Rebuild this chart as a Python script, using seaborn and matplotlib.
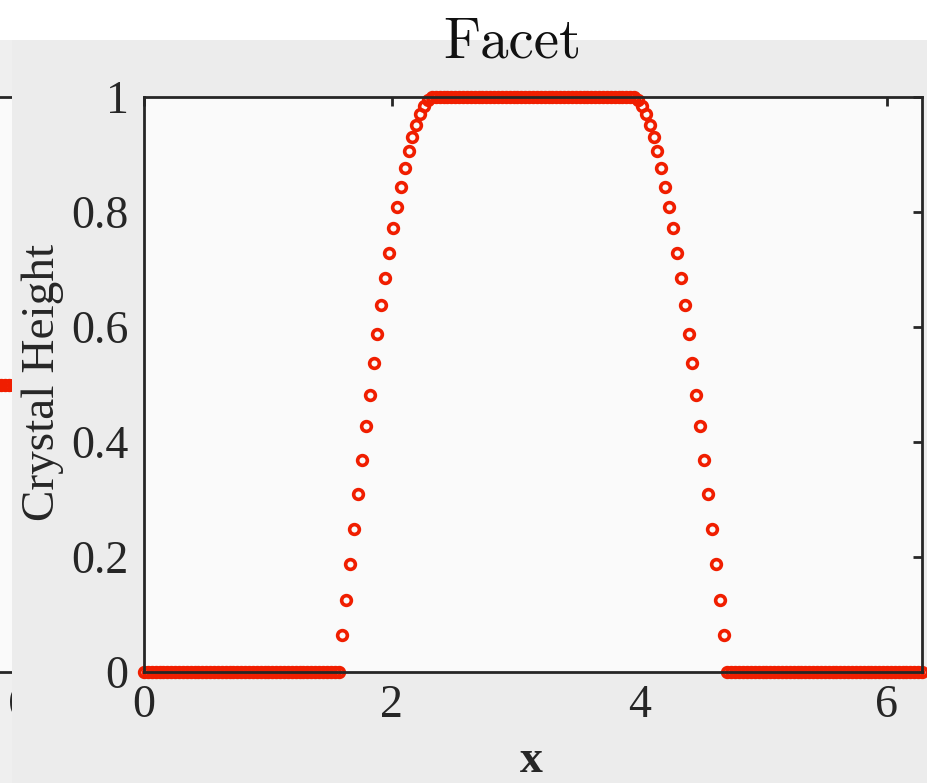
import numpy as np
import pandas as pd
import matplotlib
matplotlib.use("Agg")
import matplotlib.pyplot as plt
from matplotlib.patches import Rectangle
import seaborn as sns

# ---- data -------------------------------------------------------------
n_points = 201
x_grid = np.linspace(0, 2 * np.pi, n_points)

flat_left = [0.0] * 51
rise = [0.064, 0.125, 0.187, 0.248, 0.310, 0.368, 0.427, 0.482, 0.537,
        0.588, 0.638, 0.686, 0.729, 0.773, 0.809, 0.844, 0.877, 0.906,
        0.930, 0.952, 0.970, 0.984, 0.995]
plateau = [1.0] * 53
fall = [0.995, 0.984, 0.970, 0.952, 0.930, 0.906, 0.877, 0.844, 0.809,
        0.773, 0.729, 0.686, 0.638, 0.588, 0.537, 0.482, 0.427, 0.368,
        0.310, 0.248, 0.187, 0.125, 0.064]
flat_right = [0.0] * 51
height = flat_left + rise + plateau + fall + flat_right

# neighbouring panel: points near its right edge sit at half height
side_x = [5.70, 5.73, 5.76, 5.79, 5.82, 5.85, 5.88, 5.91, 5.94, 5.97,
          6.00, 6.03, 6.06, 6.09, 6.12, 6.15, 6.18, 6.21, 6.24, 6.27]
side_y = [0.5] * len(side_x)

x_ticks = [0, 2, 4, 6]
y_ticks = [0, 0.2, 0.4, 0.6, 0.8, 1]
y_ticklabels = ["0", "0.2", "0.4", "0.6", "0.8", "1"]
title_text = "Facet"
x_label = "x"
y_label = "Crystal Height"

df = pd.DataFrame({"x": x_grid, "h": height})
side_df = pd.DataFrame({"x": side_x, "h": side_y})

# ---- style ------------------------------------------------------------
sns.set_theme(style="white")
plt.rcParams["font.family"] = ["Liberation Serif", "DejaVu Serif"]

W, H = 927, 783
fig = plt.figure(figsize=(W / 100, H / 100), dpi=100, facecolor="white")

RED = "#f01e00"
SPINE = "#262626"
FIG_GRAY = "#ececec"
AX_BG = "#fafafa"
MARKER = dict(linestyle="none", marker="o", markersize=7,
              markerfacecolor="none", markeredgecolor=RED,
              markeredgewidth=2.6, color=RED, clip_on=False)


def px_rect(left, top, right, bottom):
    return [left / W, 1 - bottom / H, (right - left) / W, (bottom - top) / H]


def style_axes(ax, labelsize=33):
    ax.set_facecolor(AX_BG)
    for s in ax.spines.values():
        s.set_visible(True)
        s.set_color(SPINE)
        s.set_linewidth(2.0)
    ax.tick_params(axis="both", direction="in", length=6.5, width=2.0,
                   color=SPINE, top=True, right=True, labelsize=labelsize,
                   labelcolor="#262626")
    ax.tick_params(axis="x", pad=9)
    ax.tick_params(axis="y", pad=11)


# strip of the neighbouring window on the far left
fig.patches.append(Rectangle((0, 0), 12 / W, 1 - 40 / H,
                             transform=fig.transFigure, facecolor="#efefef",
                             edgecolor="none", zorder=-2))

ax_side = fig.add_axes(px_rect(-723, 97, 55, 672), zorder=0)
style_axes(ax_side)
sns.lineplot(data=side_df, x="x", y="h", ax=ax_side, estimator=None, **MARKER)
ax_side.set_xlim(0, 2 * np.pi)
ax_side.set_ylim(0, 1)
ax_side.set_xticks(x_ticks)
ax_side.set_xticklabels(["", "", "", "6"])
ax_side.set_yticks(y_ticks)
ax_side.set_yticklabels([])
ax_side.set_xlabel("")
ax_side.set_ylabel("")

# figure background of the main window
fig.patches.append(Rectangle((12 / W, 0), 1, 1 - 40 / H,
                             transform=fig.transFigure, facecolor=FIG_GRAY,
                             edgecolor="none", zorder=0.5))

ax = fig.add_axes(px_rect(144, 97, 922, 672), zorder=1)
style_axes(ax)
sns.lineplot(data=df, x="x", y="h", ax=ax, estimator=None, **MARKER)
ax.set_xlim(0, 2 * np.pi)
ax.set_ylim(0, 1)
ax.set_xticks(x_ticks)
ax.set_xticklabels([str(t) for t in x_ticks])
ax.set_yticks(y_ticks)
ax.set_yticklabels(y_ticklabels)
ax.set_xlabel("")
ax.set_ylabel("")

fig.text(512 / W, 1 - 57 / H, title_text, ha="center", va="baseline",
         fontsize=41, family=["cmr10", "DejaVu Serif"], color="#111111",
         zorder=3)
fig.text(531 / W, 1 - 772 / H, x_label, ha="center", va="baseline",
         fontsize=33, fontweight="bold", color="#262626", zorder=3)
fig.text(43 / W, 1 - 382 / H, y_label, ha="center", va="center",
         rotation=90, fontsize=34, color="#262626", zorder=3)

fig.savefig("out.png", dpi=100, facecolor="white")
